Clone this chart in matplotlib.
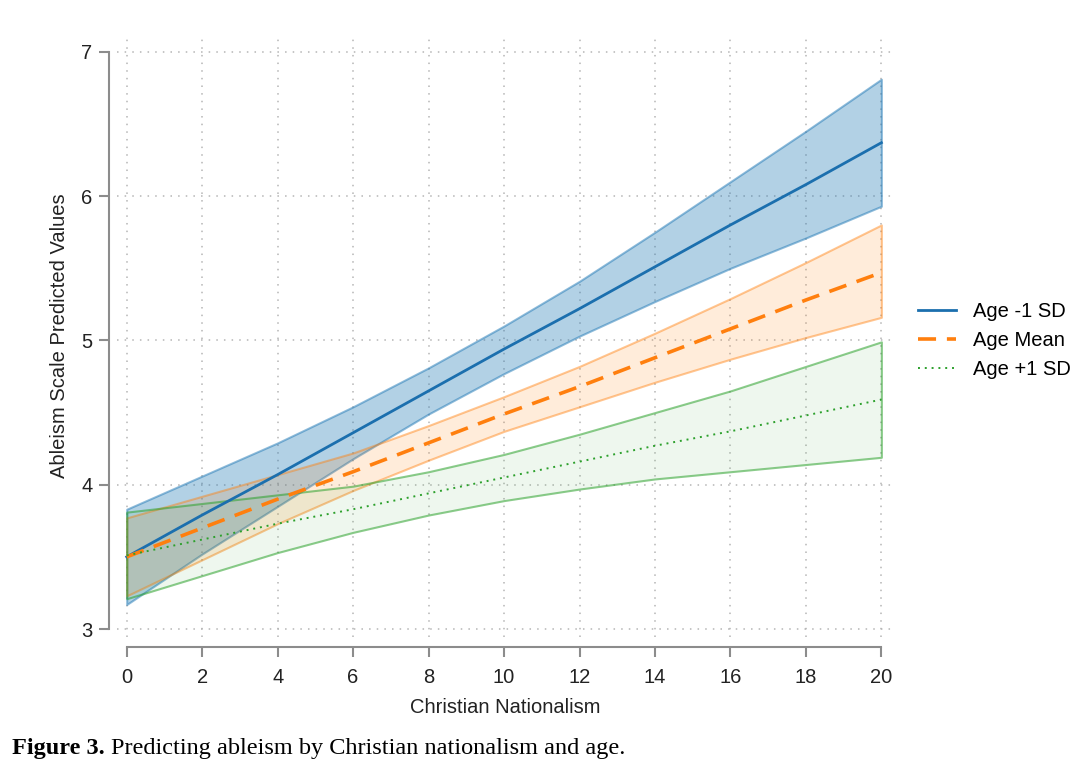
import matplotlib
matplotlib.use("Agg")
import matplotlib.pyplot as plt
from matplotlib.lines import Line2D

plt.rcParams['font.family'] = ['Liberation Sans', 'DejaVu Sans']

# ---- data ----
cn = [0, 2, 4, 6, 8, 10, 12, 14, 16, 18, 20]

young_fit = [3.50, 3.79, 4.07, 4.36, 4.65, 4.94, 5.22, 5.51, 5.80, 6.08, 6.37]
young_hi = [3.83, 4.06, 4.29, 4.54, 4.81, 5.10, 5.41, 5.75, 6.10, 6.45, 6.81]
young_lo = [3.17, 3.52, 3.85, 4.18, 4.49, 4.77, 5.03, 5.27, 5.50, 5.71, 5.93]

mean_fit = [3.50, 3.70, 3.90, 4.09, 4.29, 4.49, 4.68, 4.88, 5.08, 5.28, 5.47]
mean_hi = [3.77, 3.92, 4.07, 4.22, 4.41, 4.61, 4.82, 5.05, 5.29, 5.54, 5.80]
mean_lo = [3.23, 3.48, 3.73, 3.96, 4.17, 4.37, 4.54, 4.71, 4.87, 5.02, 5.16]

old_fit = [3.51, 3.62, 3.73, 3.83, 3.94, 4.05, 4.16, 4.27, 4.37, 4.48, 4.59]
old_hi = [3.81, 3.87, 3.93, 3.99, 4.09, 4.21, 4.35, 4.50, 4.65, 4.82, 4.99]
old_lo = [3.21, 3.37, 3.53, 3.67, 3.79, 3.89, 3.97, 4.04, 4.09, 4.14, 4.19]

labels = ["Age -1 SD", "Age Mean", "Age +1 SD"]
xticks = [0, 2, 4, 6, 8, 10, 12, 14, 16, 18, 20]
yticks = [3, 4, 5, 6, 7]

blue, orange, green = "#1b6fae", "#ff7f0e", "#2ca02c"

fig = plt.figure(figsize=(10.86, 7.73), dpi=100)
ax = fig.add_axes([0.108, 0.176, 0.714, 0.779])

# bands
ax.fill_between(cn, young_lo, young_hi, facecolor=(0.12, 0.47, 0.71, 0.34),
                edgecolor=(0.12, 0.47, 0.71, 0.5), linewidth=1.5, zorder=2)
ax.fill_between(cn, mean_lo, mean_hi, facecolor=(1.0, 0.5, 0.05, 0.15),
                edgecolor=(1.0, 0.5, 0.05, 0.45), linewidth=1.5, zorder=2)
ax.fill_between(cn, old_lo, old_hi, facecolor=(0.17, 0.63, 0.17, 0.08),
                edgecolor=(0.17, 0.63, 0.17, 0.55), linewidth=1.5, zorder=2)

# lines
ax.plot(cn, young_fit, color=blue, lw=2.0, zorder=4)
ax.plot(cn, mean_fit, color=orange, lw=2.6, dashes=(5, 3), zorder=4)
ax.plot(cn, old_fit, color=green, lw=1.4, dashes=(1, 2.5), zorder=4)

ax.set_xlim(-0.25, 20.3)
ax.set_ylim(2.945, 7.118)
ax.set_xticks(xticks)
ax.set_yticks(yticks)
ax.set_xticklabels([str(t) for t in xticks])
ax.set_yticklabels([str(t) for t in yticks])

ax.grid(True, color="#b5b5b5", linestyle=(0, (1, 4)), linewidth=1.1, zorder=0)
ax.set_axisbelow(True)

for s in ["top", "right"]:
    ax.spines[s].set_visible(False)
ax.spines["left"].set_position(("outward", 6))
ax.spines["bottom"].set_position(("outward", 7))
ax.spines["left"].set_bounds(3, 7)
ax.spines["bottom"].set_bounds(0, 20)
for s in ["left", "bottom"]:
    ax.spines[s].set_color("#8c8c8c")
    ax.spines[s].set_linewidth(1.5)

ax.tick_params(axis="both", direction="out", length=7, width=1.5,
               color="#8c8c8c", labelsize=14.5, labelcolor="#222222")
ax.tick_params(axis="x", pad=8)
ax.tick_params(axis="y", pad=5)

ax.set_xlabel("Christian Nationalism", fontsize=14.5, color="#222222", labelpad=8)
ax.set_ylabel("Ableism Scale Predicted Values", fontsize=14.5, color="#222222", labelpad=9)

handles = [
    Line2D([], [], color=blue, lw=2.0),
    Line2D([], [], color=orange, lw=2.6, dashes=(5, 3)),
    Line2D([], [], color=green, lw=1.4, dashes=(1, 2.5)),
]
fig.legend(handles, labels, loc="center left", bbox_to_anchor=(0.829, 0.559),
           frameon=False, fontsize=14.5, handlelength=1.85, labelspacing=0.5,
           handletextpad=0.85)

serif = ["Liberation Serif", "DejaVu Serif"]
t1 = fig.text(0.011, 0.024, "Figure 3.", fontsize=17.5, fontweight="bold",
              family=serif, va="baseline")
fig.canvas.draw()
bb = t1.get_window_extent(renderer=fig.canvas.get_renderer())
x2 = (bb.x1 + 6) / fig.bbox.width
fig.text(x2, 0.024, "Predicting ableism by Christian nationalism and age.",
         fontsize=17.5, family=serif, va="baseline")

fig.savefig("out.png", dpi=100)
